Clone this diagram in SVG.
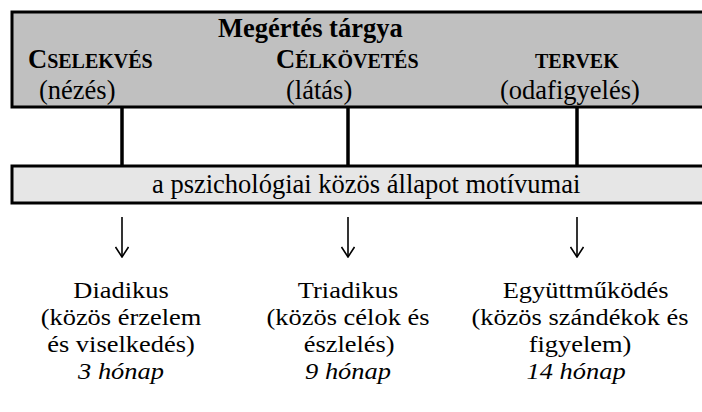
<svg xmlns="http://www.w3.org/2000/svg" width="702" height="412" viewBox="0 0 702 412">
<style>
  text { font-family: "Liberation Serif", "DejaVu Serif", serif; fill: #000; }
  .t { font-size: 26.5px; }
  .s { font-size: 23.4px; }
  .b { font-weight: bold; }
  .sc { font-size: 20px; }
  .i { font-style: italic; }
  .mid { text-anchor: middle; }
  .box { stroke: #000; stroke-width: 3; }
  .stem { stroke: #000; stroke-width: 3.5; fill: none; }
  .arrow { stroke: #000; stroke-width: 1.6; fill: none; }
</style>
<defs>
  <marker id="head" markerWidth="12" markerHeight="14" refX="11" refY="7" orient="auto" markerUnits="userSpaceOnUse" viewBox="0 0 12 14">
    <path d="M1,0.5 L11,7 L1,13.5" fill="none" stroke="#000" stroke-width="1.6"/>
  </marker>
</defs>
<rect width="702" height="412" fill="#fff"/>
<g id="top-box">
  <rect class="box" x="12" y="12" width="700" height="95" fill="#c0c0c0"/>
  <text class="t b" font-family="Liberation Serif, serif" x="218" y="37">Megértés tárgya</text>
  <text class="t b" font-family="Liberation Serif, serif" x="28" y="68">C<tspan class="sc">SELEKVÉS</tspan></text>
  <text class="t" font-family="Liberation Serif, serif" x="39" y="99">(nézés)</text>
  <text class="t b" font-family="Liberation Serif, serif" x="276" y="68">C<tspan class="sc">ÉLKÖVETÉS</tspan></text>
  <text class="t" font-family="Liberation Serif, serif" x="286" y="99">(látás)</text>
  <text class="sc b" font-family="Liberation Serif, serif" x="535" y="68">TERVEK</text>
  <text class="t" font-family="Liberation Serif, serif" x="500" y="99">(odafigyelés)</text>
</g>
<g id="motive-box">
  <rect class="box" x="12" y="166" width="700" height="37" fill="#e6e6e6"/>
  <text class="t" font-family="Liberation Serif, serif" x="152" y="193">a pszichológiai közös állapot motívumai</text>
</g>
<g id="connectors">
  <line class="stem" x1="122" y1="108" x2="122" y2="165"/>
  <line class="stem" x1="348" y1="108" x2="348" y2="165"/>
  <line class="stem" x1="577" y1="108" x2="577" y2="165"/>
  <line class="arrow" x1="122" y1="217" x2="122" y2="257" marker-end="url(#head)"/>
  <line class="arrow" x1="348" y1="217" x2="348" y2="257" marker-end="url(#head)"/>
  <line class="arrow" x1="577" y1="217" x2="577" y2="257" marker-end="url(#head)"/>
</g>
<g id="diadikus" font-family="Liberation Serif, serif" transform="translate(121 0) scale(1.13 1)">
  <text class="s mid" x="0" y="298">Diadikus</text>
  <text class="s mid" x="0" y="325">(közös érzelem</text>
  <text class="s mid" x="0" y="352">és viselkedés)</text>
  <text class="s mid i" x="0" y="379">3 hónap</text>
</g>
<g id="triadikus" font-family="Liberation Serif, serif" transform="translate(348 0) scale(1.13 1)">
  <text class="s mid" x="0" y="298">Triadikus</text>
  <text class="s mid" x="0" y="325">(közös célok és</text>
  <text class="s mid" x="1" y="352">észlelés)</text>
  <text class="s mid i" x="0" y="379">9 hónap</text>
</g>
<g id="egyuttmukodes" font-family="Liberation Serif, serif" transform="translate(580 0) scale(1.13 1)">
  <text class="s mid" x="5" y="298">Együttműködés</text>
  <text class="s mid" x="0" y="325">(közös szándékok és</text>
  <text class="s mid" x="0" y="352">figyelem)</text>
  <text class="s mid i" x="-3.5" y="379">14 hónap</text>
</g>
</svg>
